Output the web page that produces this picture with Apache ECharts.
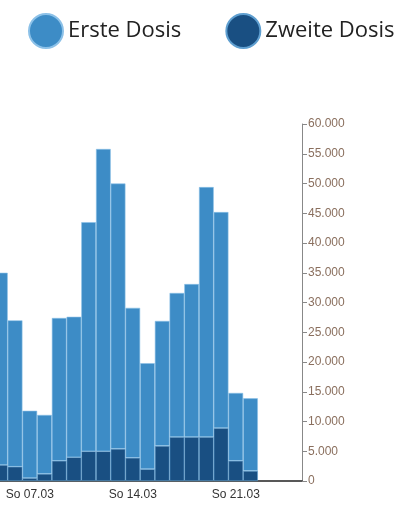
<!DOCTYPE html><html><head><meta charset="utf-8"><script src="https://cdn.jsdelivr.net/npm/echarts@6/dist/echarts.min.js"></script></head><body style="margin:0;overflow:hidden;width:408px;height:523px;position:relative"><div id="c" style="position:absolute;left:-7px;top:0;width:415px;height:523px"></div><script>
const categories=['05.03','06.03','07.03','08.03','09.03','10.03','11.03','12.03','13.03','14.03','15.03','16.03','17.03','18.03','19.03','20.03','21.03','22.03','23.03','24.03','25.03'];
const zweite=[2700,2400,500,1200,3400,4000,5000,5000,5400,3900,2000,5900,7400,7400,7400,8900,3400,1700,null,null,null];
const gesamt=[35000,27000,11800,11100,27400,27600,43500,55800,50000,29100,19800,26900,31600,33100,49400,45200,14800,13900,null,null,null];
const erste=gesamt.map((v,i)=>v==null?null:v-zweite[i]);
const labelDays=['07.03','14.03','21.03'];
const fmt=v=>String(v).replace(/\B(?=(\d{3})+(?!\d))/g,'.');
const ch=echarts.init(document.getElementById('c'));
ch.setOption({animation:false,
legend:{top:8,left:30,itemWidth:34,itemHeight:34,itemGap:44,icon:'circle',textStyle:{fontSize:22,color:'#222',fontFamily:'Open Sans'},data:[{name:'Erste Dosis',itemStyle:{color:'#3d8cc6'}},{name:'Zweite Dosis',itemStyle:{color:'#194f82'}}]},
grid:{left:0,right:106,top:124,bottom:42},
xAxis:{type:'category',data:categories,boundaryGap:true,axisLine:{lineStyle:{color:'#222',width:1.5}},
 axisTick:{alignWithLabel:true,interval:(i)=>i<18,length:6,lineStyle:{color:'#222'}},
 axisLabel:{interval:0,formatter:v=>labelDays.includes(v)?'So '+v:'',color:'#333',fontSize:12,margin:8}},
yAxis:{type:'value',position:'right',min:0,max:60000,interval:5000,splitLine:{show:false},
 axisLine:{show:true,lineStyle:{color:'#888'}},axisTick:{show:true,length:5,lineStyle:{color:'#888'}},
 axisLabel:{formatter:fmt,color:'#8a6f5e',fontSize:12,margin:6}},
series:[
{name:'Zweite Dosis',type:'bar',stack:'a',barWidth:'100%',data:zweite,itemStyle:{color:'#194f82',borderColor:'#5f9fd0',borderWidth:0.6}},
{name:'Erste Dosis',type:'bar',stack:'a',barWidth:'100%',data:erste,itemStyle:{color:'#3d8cc6',borderColor:'#8cc1e8',borderWidth:0.6}}
]});
</script></body></html>
